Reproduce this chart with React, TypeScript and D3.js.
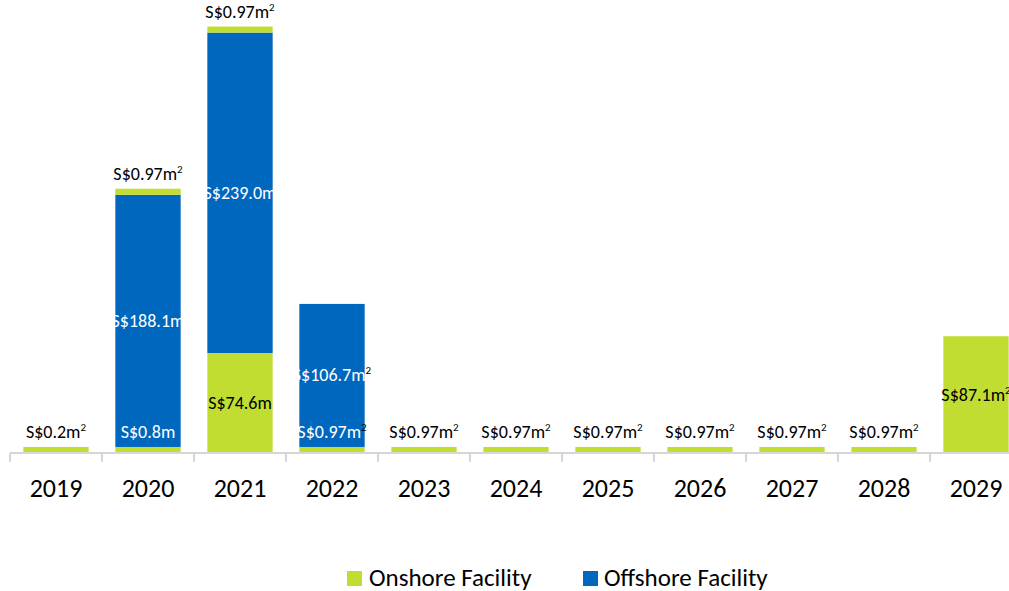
import * as d3 from "d3";

// chart values (S$ millions)
const years = ["2019", "2020", "2021", "2022", "2023", "2024", "2025", "2026", "2027", "2028", "2029"];
const onshoreBase = [0.2, 0.8, 74.6, 0.97, 0.97, 0.97, 0.97, 0.97, 0.97, 0.97, 87.1];
const offshore = [0, 188.1, 239.0, 106.7, 0, 0, 0, 0, 0, 0, 0];
const onshoreTop = [0, 0.97, 0.97, 0, 0, 0, 0, 0, 0, 0, 0];
// footnote marker "2" after the label
const baseNote = [true, false, false, true, true, true, true, true, true, true, true];
const offshoreNote = [false, false, false, true, false, false, false, false, false, false, false];
const topNote = [false, true, true, false, false, false, false, false, false, false, false];

const GREEN = "#c1dd31";
const BLUE = "#0067be";
const FONT = "Carlito, Lato, 'Open Sans', sans-serif";
const MIN_SHOWN = 4.5; // tiny values get a visible sliver, like the original

const width = 1009;
const height = 591;

function shown(v: number) {
  return v > 0 ? Math.max(v, MIN_SHOWN) : 0;
}

function fmt(v: number) {
  return "S$" + (v >= 10 ? v.toFixed(1) : String(v)) + "m";
}

function Label(props: { x: number; y: number; text: string; fill: string; note: boolean }) {
  return (
    <text x={props.x} y={props.y} textAnchor="middle" dominantBaseline="central"
      fontFamily={FONT} fontSize={18}>
      <tspan fill={props.fill}>{props.text}</tspan>
      {props.note && <tspan fill="#000" fontSize={11} dy={-5}>2</tspan>}
    </text>
  );
}

export default function App() {
  const x = d3.scaleBand<string>()
    .domain(years)
    .range([10, 1022])
    .paddingInner(0.29)
    .paddingOuter(0.145);
  const y = d3.scaleLinear().domain([0, 320]).range([453, 24]);
  const bw = x.bandwidth();

  const rows = years.map((yr, i) => {
    const b = shown(onshoreBase[i]);
    const o = offshore[i];
    const t = shown(onshoreTop[i]);
    return { yr, i, b0: 0, b1: b, o0: b, o1: b + o, t0: b + o, t1: b + o + t };
  });

  const ticks = d3.range(years.length + 1).map(k => 10 + k * x.step());

  return (
    <svg width={width} height={height} style={{ position: "absolute", left: 0, top: 0 }}>
      {rows.map(r => {
        const x0 = x(r.yr) as number;
        return (
          <g key={r.yr}>
            <rect x={x0} width={bw} y={y(r.b1)} height={y(r.b0) - y(r.b1)} fill={GREEN} />
            {offshore[r.i] > 0 && (
              <rect x={x0} width={bw} y={y(r.o1)} height={y(r.o0) - y(r.o1)} fill={BLUE} />
            )}
            {onshoreTop[r.i] > 0 && (
              <rect x={x0} width={bw} y={y(r.t1)} height={y(r.t0) - y(r.t1)} fill={GREEN} />
            )}
          </g>
        );
      })}
      {rows.map(r => {
        const cx = (x(r.yr) as number) + bw / 2;
        const big = onshoreBase[r.i] >= 10;
        const out: any[] = [];
        if (big) {
          out.push(<Label key="b" x={cx} y={(y(r.b0) + y(r.b1)) / 2} text={fmt(onshoreBase[r.i])} fill="#000" note={baseNote[r.i]} />);
        } else {
          out.push(<Label key="b" x={cx} y={y(r.b1) - 15} text={fmt(onshoreBase[r.i])}
            fill={offshore[r.i] > 0 ? "#fff" : "#000"} note={baseNote[r.i]} />);
        }
        if (offshore[r.i] > 0) {
          out.push(<Label key="o" x={cx} y={(y(r.o0) + y(r.o1)) / 2} text={fmt(offshore[r.i])} fill="#fff" note={offshoreNote[r.i]} />);
        }
        if (onshoreTop[r.i] > 0) {
          out.push(<Label key="t" x={cx} y={y(r.t1) - 15} text={fmt(onshoreTop[r.i])} fill="#000" note={topNote[r.i]} />);
        }
        return <g key={"l" + r.yr}>{out}</g>;
      })}
      <line x1={10} x2={width} y1={453} y2={453} stroke="#d6d6d6" strokeWidth={2} />
      {ticks.map(t => (
        <line key={t} x1={t} x2={t} y1={453} y2={462} stroke="#d6d6d6" strokeWidth={2} />
      ))}
      {years.map(yr => (
        <text key={yr} x={(x(yr) as number) + bw / 2} y={488} textAnchor="middle"
          dominantBaseline="central" fontFamily={FONT} fontSize={26} fill="#000">{yr}</text>
      ))}
      <g fontFamily={FONT} fontSize={25} fill="#000">
        <rect x={347} y={571} width={15} height={15} fill={GREEN} />
        <text x={369} y={577} dominantBaseline="central">Onshore Facility</text>
        <rect x={583} y={571} width={15} height={15} fill={BLUE} />
        <text x={604} y={577} dominantBaseline="central">Offshore Facility</text>
      </g>
    </svg>
  );
}
